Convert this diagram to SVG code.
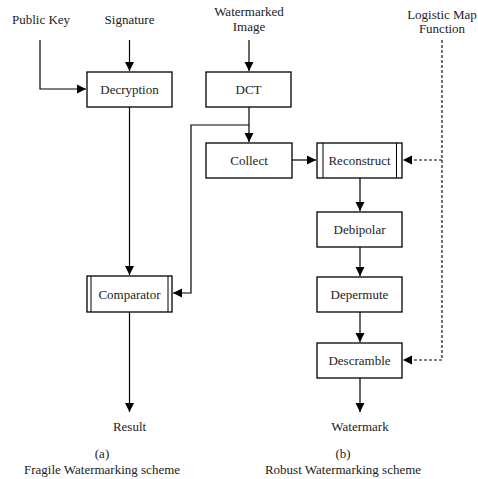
<svg xmlns="http://www.w3.org/2000/svg" width="478" height="479" viewBox="0 0 478 479">
<defs>
<marker id="ah" markerWidth="10" markerHeight="10" refX="9" refY="5" orient="auto" markerUnits="userSpaceOnUse">
<path d="M0,0.5 L9,5 L0,9.5 Z" fill="#000"/>
</marker>
</defs>
<style>
text{font-family:"Liberation Serif","Times New Roman",serif;font-size:13px;fill:#222;text-anchor:middle}
.box{fill:#fff;stroke:#000;stroke-width:1.3}
.in{stroke:#000;stroke-width:1}
.c{fill:none;stroke:#000;stroke-width:1.2}
.d{fill:none;stroke:#000;stroke-width:1.1;stroke-dasharray:3,2}
</style>
<rect width="478" height="479" fill="#fff"/>
<g id="connectors">
<polyline class="c" points="40,40 40,89 86,89" marker-end="url(#ah)"/>
<line class="c" x1="129.5" y1="40" x2="129.5" y2="71" marker-end="url(#ah)"/>
<line class="c" x1="249" y1="40" x2="249" y2="71" marker-end="url(#ah)"/>
<line class="c" x1="129.5" y1="107" x2="129.5" y2="275" marker-end="url(#ah)"/>
<line class="c" x1="249" y1="107" x2="249" y2="142" marker-end="url(#ah)"/>
<polyline class="c" points="249,125 191,125 191,293 173,293" marker-end="url(#ah)"/>
<line class="c" x1="292" y1="160" x2="316" y2="160" marker-end="url(#ah)"/>
<line class="c" x1="360" y1="178" x2="360" y2="211" marker-end="url(#ah)"/>
<line class="c" x1="360" y1="247" x2="360" y2="276" marker-end="url(#ah)"/>
<line class="c" x1="360" y1="312" x2="360" y2="342" marker-end="url(#ah)"/>
<line class="c" x1="360" y1="378" x2="360" y2="412" marker-end="url(#ah)"/>
<line class="c" x1="129.5" y1="312" x2="129.5" y2="412" marker-end="url(#ah)"/>
<polyline class="d" points="442,40 442,360 403,360" marker-end="url(#ah)"/>
<line class="d" x1="442" y1="160" x2="403" y2="160" marker-end="url(#ah)"/>
</g>
<g id="public-key"><text x="41" y="24">Public Key</text></g>
<g id="signature"><text x="129.5" y="24">Signature</text></g>
<g id="watermarked-image"><text x="249" y="16">Watermarked</text><text x="249" y="31">Image</text></g>
<g id="logistic-map"><text x="442" y="19">Logistic Map</text><text x="442" y="33">Function</text></g>
<g id="decryption"><rect class="box" x="87" y="72" width="85" height="35"/><text x="129.5" y="94">Decryption</text></g>
<g id="dct"><rect class="box" x="206" y="72" width="85" height="35"/><text x="248.5" y="94">DCT</text></g>
<g id="collect"><rect class="box" x="206" y="143" width="86" height="35"/><text x="249" y="165">Collect</text></g>
<g id="reconstruct"><rect class="box" x="317" y="143" width="85" height="35"/><line class="in" x1="323" y1="143" x2="323" y2="178"/><line class="in" x1="396.5" y1="143" x2="396.5" y2="178"/><text x="359.5" y="165">Reconstruct</text></g>
<g id="debipolar"><rect class="box" x="317" y="212" width="85" height="35"/><text x="359.5" y="234">Debipolar</text></g>
<g id="depermute"><rect class="box" x="317" y="277" width="85" height="35"/><text x="359.5" y="299">Depermute</text></g>
<g id="descramble"><rect class="box" x="317" y="343" width="85" height="35"/><text x="359.5" y="365">Descramble</text></g>
<g id="comparator"><rect class="box" x="87" y="276" width="85" height="36"/><line class="in" x1="91" y1="276" x2="91" y2="312"/><line class="in" x1="168" y1="276" x2="168" y2="312"/><text x="129.5" y="299">Comparator</text></g>
<g id="result"><text x="129.5" y="431">Result</text></g>
<g id="watermark"><text x="360" y="431">Watermark</text></g>
<g id="caption-a"><text x="102" y="458">(a)</text><text x="102" y="474">Fragile Watermarking scheme</text></g>
<g id="caption-b"><text x="343" y="458">(b)</text><text x="343" y="474">Robust Watermarking scheme</text></g>
</svg>
